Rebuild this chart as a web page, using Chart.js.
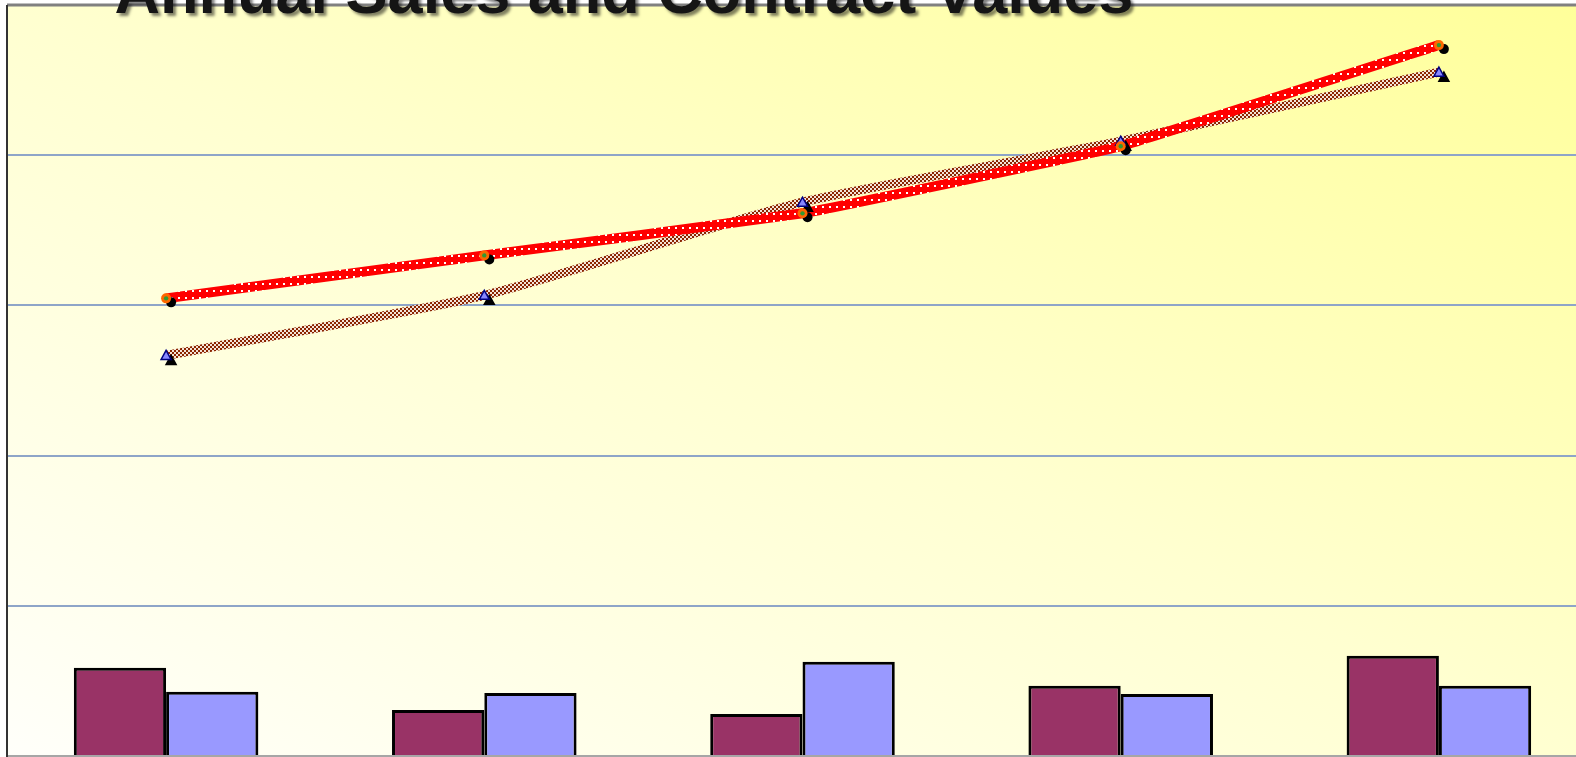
<!DOCTYPE html>
<html>
<head>
<meta charset="utf-8">
<title>Annual Sales and Contract Values</title>
<script src="https://cdn.jsdelivr.net/npm/chart.js@4/dist/chart.umd.min.js"></script>
<style>
    html, body { margin: 0; padding: 0; background: #ffffff; overflow: hidden; }
    #wrap { position: absolute; left: 0; top: 0; width: 1606px; height: 760px; }
</style>
</head>
<body>
<div id="wrap"><canvas id="salesChart" width="1606" height="760"></canvas></div>
<script>
/* ─── Data ────────────────────────────────────────────────────── */
const years          = ['2005', '2006', '2007', '2008', '2009'];
const salesUnits     = [58.7, 30.7, 28.0, 46.7, 66.7];
const contractUnits  = [42.7, 42.0, 62.7, 41.3, 46.7];
const salesValue     = [304.7, 333.3, 361.3, 406.0, 473.3];
const contractValue  = [266.7, 306.7, 368.7, 409.3, 455.3];
const yTicks         = [0, 100, 200, 300, 400, 500];

const chartTitle = 'Annual Sales and Contract Values';

/* ─── Line patterns ────────────────────────────────────────────── */
function dottedRed() {
    const c = document.createElement('canvas');
    c.width = 7; c.height = 7;
    const g = c.getContext('2d');
    g.fillStyle = '#ff0000';
    g.fillRect(0, 0, 7, 7);
    g.fillStyle = '#ffffff';
    g.fillRect(3, 3, 2, 2);
    return g.createPattern(c, 'repeat');
}

function checkerBrown() {
    const c = document.createElement('canvas');
    c.width = 4; c.height = 4;
    const g = c.getContext('2d');
    g.fillStyle = '#f4e4d8';
    g.fillRect(0, 0, 4, 4);
    g.fillStyle = '#8b2500';
    g.fillRect(0, 0, 2, 2);
    g.fillRect(2, 2, 2, 2);
    return g.createPattern(c, 'repeat');
}

/* ─── Plot background, borders, title, markers ─────────────────── */
const decorPlugin = {
    id: 'decor',
    beforeDraw(chart) {
        const { ctx, chartArea: a } = chart;
        ctx.save();
        ctx.translate(a.left, a.top);
        ctx.scale(a.right - a.left, a.bottom - a.top);
        const grad = ctx.createLinearGradient(0, 1, 1, 0);
        grad.addColorStop(0, '#fffffa');
        grad.addColorStop(0.5, '#ffffd0');
        grad.addColorStop(1, '#ffff99');
        ctx.fillStyle = grad;
        ctx.fillRect(0, 0, 1, 1);
        ctx.restore();
    },
    afterDatasetsDraw(chart) {
        const ctx = chart.ctx;
        const a   = chart.chartArea;

        // markers with their dark drop shadows
        const red = chart.getDatasetMeta(2).data;
        const brn = chart.getDatasetMeta(3).data;

        brn.forEach(p => {
            tri(ctx, p.x + 5, p.y + 5, 5, '#000000', '#000000');
            tri(ctx, p.x, p.y, 5, '#8888ff', '#000080');
        });
        red.forEach(p => {
            ctx.fillStyle = '#000000';
            ctx.beginPath(); ctx.arc(p.x + 5, p.y + 4, 5, 0, Math.PI * 2); ctx.fill();
            ctx.fillStyle = '#ff6600';
            ctx.beginPath(); ctx.arc(p.x, p.y, 5, 0, Math.PI * 2); ctx.fill();
            ctx.fillStyle = '#339933';
            ctx.beginPath(); ctx.arc(p.x, p.y, 2.2, 0, Math.PI * 2); ctx.fill();
        });

        // plot area frame (left and top)
        ctx.save();
        ctx.strokeStyle = '#808080';
        ctx.lineWidth = 3;
        ctx.beginPath();
        ctx.moveTo(a.left, a.top);
        ctx.lineTo(chart.width, a.top);
        ctx.stroke();
        ctx.strokeStyle = '#333333';
        ctx.lineWidth = 2;
        ctx.beginPath();
        ctx.moveTo(a.left, a.top);
        ctx.lineTo(a.left, chart.height);
        ctx.stroke();
        ctx.restore();
    },
    afterDraw(chart) {
        const ctx = chart.ctx;
        ctx.save();
        ctx.font = 'bold 63px "Liberation Sans", Arial, sans-serif';
        ctx.textAlign = 'center';
        ctx.textBaseline = 'alphabetic';
        ctx.shadowColor = 'rgba(0,0,0,0.5)';
        ctx.shadowOffsetX = 3;
        ctx.shadowOffsetY = 3;
        ctx.shadowBlur = 3;
        ctx.fillStyle = '#151515';
        ctx.fillText(chartTitle, 624, 13);
        ctx.restore();
    },
};

function tri(ctx, x, y, r, fill, stroke) {
    ctx.save();
    ctx.beginPath();
    ctx.moveTo(x, y - r);
    ctx.lineTo(x + r, y + r * 0.8);
    ctx.lineTo(x - r, y + r * 0.8);
    ctx.closePath();
    ctx.fillStyle = fill;
    ctx.fill();
    ctx.lineWidth = 1.5;
    ctx.strokeStyle = stroke;
    ctx.stroke();
    ctx.restore();
}

/* ─── Chart ────────────────────────────────────────────────────── */
const ctxSales = document.getElementById('salesChart').getContext('2d');

new Chart(ctxSales, {
    type: 'bar',
    data: {
        labels: years,
        datasets: [
            {
                label           : 'Sales (units)',
                data            : salesUnits,
                backgroundColor : '#993366',
                borderColor     : '#000000',
                borderWidth     : 3,
                borderSkipped   : 'bottom',
                order           : 3,
            },
            {
                label           : 'Contracts (units)',
                data            : contractUnits,
                backgroundColor : '#9999ff',
                borderColor     : '#000000',
                borderWidth     : 3,
                borderSkipped   : 'bottom',
                order           : 4,
            },
            {
                type            : 'line',
                label           : 'Sales value',
                data            : salesValue,
                borderColor     : dottedRed(),
                borderWidth     : 10,
                pointRadius     : 0,
                tension         : 0.08,
                order           : 1,
            },
            {
                type            : 'line',
                label           : 'Contract value',
                data            : contractValue,
                borderColor     : checkerBrown(),
                borderWidth     : 9,
                pointRadius     : 0,
                tension         : 0.2,
                order           : 2,
            },
        ],
    },
    options: {
        responsive : false,
        animation  : false,
        devicePixelRatio: 1,
        layout     : { padding: { left: 7, top: 5, right: 8, bottom: 4 } },
        plugins    : { legend: { display: false }, title: { display: false }, tooltip: { enabled: false } },
        datasets   : { bar: { categoryPercentage: 0.58, barPercentage: 1.0 } },
        scales     : {
            x: { display: false },
            y: {
                min: yTicks[0],
                max: yTicks[yTicks.length - 1],
                afterBuildTicks: axis => { axis.ticks = yTicks.map(v => ({ value: v })); },
                ticks : { display: false },
                border: { display: false },
                grid  : {
                    drawTicks: false,
                    lineWidth: 2,
                    color: c => c.tick && c.tick.value === 0 ? '#a6a6a6' : '#8ea5c8',
                },
            },
        },
    },
    plugins: [decorPlugin],
});
</script>
</body>
</html>
